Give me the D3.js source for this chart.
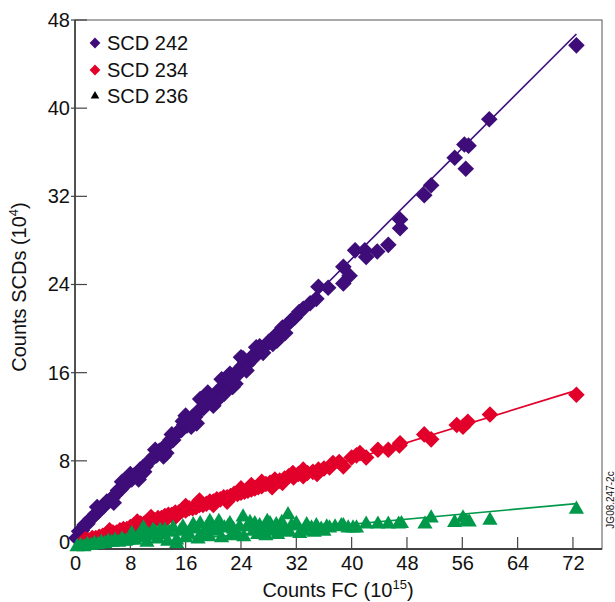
<!DOCTYPE html>
<html>
<head>
<meta charset="utf-8">
<script src="https://cdn.jsdelivr.net/npm/d3@7"></script>
<style>
  body { margin: 0; background: #fff; }
  text { font-family: "Liberation Sans", Arial, Helvetica, sans-serif; fill: #111; }
</style>
</head>
<body>
<svg id="chart" width="615" height="602"></svg>
<script>
// Axis ticks
const xTicks = [0, 8, 16, 24, 32, 40, 48, 56, 64, 72];
const yTicks = [0, 8, 16, 24, 32, 40, 48];

// Series names and colours
const seriesNames = ["SCD 242", "SCD 234", "SCD 236"];
const seriesColors = ["#3e0d79", "#e2002b", "#00994a"];

// SCD 242: [FC counts (1e15), SCD counts (1e4)]
const scd242 = [
  [0.2,1.0],[0.6,1.6],[1.0,1.7],[1.4,2.2],[1.8,2.3],[2.2,2.7],[2.6,2.9],[3.0,3.2],
  [3.4,3.4],[3.8,3.7],[4.2,3.9],[4.6,4.3],[5.0,4.4],[5.4,4.6],[5.8,4.9],[6.2,5.3],
  [6.6,5.4],[7.0,5.7],[7.4,6.0],[7.8,6.2],[8.2,6.3],[8.6,6.7],[9.0,6.8],[9.4,7.2],
  [9.8,7.4],[10.2,7.5],[10.6,7.9],[11.0,8.1],[11.4,8.4],[11.8,8.5],[12.2,8.9],[12.6,9.0],
  [13.0,9.2],[13.4,9.6],[13.8,9.9],[14.2,9.9],[14.6,10.4],[15.0,10.7],[15.4,10.8],[15.8,11.3],
  [16.2,11.2],[16.6,11.7],[17.0,12.0],[17.4,12.0],[17.8,12.5],[18.2,12.7],[18.6,12.8],[19.0,13.2],
  [19.4,13.5],[19.8,13.5],[20.2,13.9],[20.6,14.3],[21.0,14.4],[21.4,14.5],[21.8,15.0],[22.2,15.3],
  [22.6,15.3],[23.0,15.7],[23.4,16.1],[23.8,16.0],[24.2,16.6],[24.6,16.9],[25.0,16.8],[25.5,17.4],
  [26.0,17.6],[26.5,17.9],[27.0,18.2],[27.5,18.4],[28.0,18.8],[28.5,19.0],[29.0,19.4],[29.5,19.5],
  [30.0,20.1],[30.6,20.3],[31.2,20.7],[31.8,21.0],[32.4,21.5],[33.0,21.8],
  [12.8,8.4],[16.0,12.1],[17.6,11.4],[18.1,13.6],[19.2,14.2],[20.0,13.0],[21.2,15.4],
  [22.8,14.7],[24.0,17.4],[26.7,18.4],[27.2,17.8],[25.8,17.3],[24.3,17.3],
  [5.6,4.2],[8.0,6.8],[10.0,7.0],[14.0,10.4],[23.2,15.0],[28.6,18.6],[30.4,19.6],
  [3.2,3.8],[6.8,6.1],[9.2,6.3],[11.6,9.0],[13.2,8.7],[15.6,11.6],[16.8,11.1],[18.8,13.8],
  [20.4,13.4],[21.6,14.1],[22.4,15.9],[24.8,16.2],[26.2,18.3],[29.2,18.9],
  [34.0,22.3],[34.9,22.7],[35.2,23.8],[36.6,23.7],[38.8,24.1],[39.7,24.8],[38.8,25.6],
  [40.5,27.1],[41.9,27.1],[42.1,26.5],[43.7,27.0],[45.3,27.6],[47.0,29.1],[47.0,29.9],
  [50.5,32.1],[51.5,33.0],[54.9,35.5],[56.5,34.5],[56.3,36.7],[56.9,36.6],[59.9,39.0],
  [72.5,45.7]
];

// SCD 234
const scd234 = [
  [1.5,0.9],[2.0,0.8],[2.5,1.0],[3.0,1.0],[3.5,1.1],[4.0,1.2],[4.5,1.3],[5.0,1.3],
  [5.5,1.5],[6.0,1.5],[6.5,1.7],[7.0,1.8],[7.5,1.8],[8.0,2.0],[8.5,2.1],[9.0,2.1],
  [9.5,2.3],[10.0,2.3],[10.5,2.5],[11.0,2.5],[11.5,2.6],[12.0,2.8],[12.5,2.8],[13.0,3.0],
  [13.5,3.1],[14.0,3.1],[14.5,3.3],[15.0,3.3],[15.5,3.5],[16.0,3.5],[16.5,3.7],[17.0,3.7],
  [17.5,3.8],[18.0,4.0],[18.5,4.0],[19.0,4.1],[19.5,4.3],[20.0,4.3],[20.5,4.5],[21.0,4.5],
  [21.5,4.7],[22.0,4.7],[22.5,4.8],[23.0,5.0],[23.5,5.0],[24.0,5.1],[24.5,5.2],[25.0,5.3],
  [25.5,5.4],[26.0,5.5],[26.5,5.6],[27.0,5.7],[27.6,5.9],[28.2,6.0],[28.9,6.3],[29.6,6.2],
  [30.3,6.4],[30.9,6.6],[31.6,6.5],[32.3,6.8],[33.0,6.6],[33.6,6.9],[34.4,7.0],[35.2,7.2],
  [36.0,7.3],[36.8,7.4],[37.3,7.8],[38.2,7.9],[38.8,7.5],[40.0,8.3],[40.7,8.5],[41.2,8.7],
  [5.0,1.7],[9.0,2.5],[13.0,2.6],[16.0,3.9],[20.0,4.0],[24.0,5.5],[27.0,6.1],[30.0,6.0],[33.0,7.2],
  [7.0,1.4],[11.0,2.9],[14.5,2.9],[18.0,4.4],[22.0,4.3],[25.5,5.8],[28.5,5.6],[31.5,6.9],[35.0,6.8],
  [42.1,8.3],[43.8,9.0],[45.3,9.0],[46.9,9.4],[47.0,9.6],[50.5,10.4],[51.5,9.95],
  [55.2,11.25],[56.1,11.1],[56.8,11.55],[60.0,12.2],[72.5,14.0]
];

// SCD 236
const scd236 = [
  [0.3,0.2],[0.8,0.3],[1.3,0.2],[1.8,0.4],[2.3,0.3],[2.8,0.5],[3.3,0.4],[3.8,0.6],
  [4.3,0.5],[4.8,0.7],[5.3,0.6],[5.8,0.8],[6.3,0.6],[6.8,0.9],[7.3,0.7],[7.8,0.9],
  [8.2,1.4],[8.6,0.8],[9.1,1.1],[9.6,1.6],[10.1,1.0],[10.6,1.3],[11.1,1.2],[11.6,1.5],
  [12.3,1.7],[12.8,1.3],[13.0,1.7],[13.6,1.5],[14.2,1.9],[14.7,0.8],[14.7,0.5],[15.2,1.6],
  [15.6,2.0],[16.4,1.4],[17.1,2.2],[17.5,1.8],[18.1,2.3],[18.5,1.3],[19.0,1.9],[19.5,2.5],
  [19.8,2.0],[20.3,1.6],[21.0,2.2],[21.6,1.9],[22.4,2.3],[22.9,1.8],[23.4,1.4],[23.8,2.0],
  [24.3,2.9],[24.9,2.0],[25.8,1.6],[26.0,2.3],[26.7,2.1],[27.3,1.8],[28.2,2.3],[28.2,1.6],
  [29.1,2.2],[29.6,1.9],[30.3,1.6],[30.8,3.1],[31.3,2.1],[32.0,2.3],[32.5,1.4],[33.5,2.2],
  [34.2,1.9],[34.9,2.1],[35.6,1.8],[36.4,2.0],[36.8,1.9],[37.6,2.0],[38.5,2.1],[38.8,2.1],
  [39.5,1.9],[40.2,1.9],[40.7,1.9],[42.1,2.25],[43.8,2.25],[45.3,2.25],[46.8,2.25],[47.2,2.3],
  [50.6,2.25],[51.5,2.8],[54.9,2.4],[56.1,2.8],[56.6,2.5],[57.0,2.45],[60.0,2.6],[72.5,3.6],
  [9.9,1.9],[11.3,1.7],[16.9,1.9],[20.8,2.5],[22.1,2.0],[25.3,2.4],[27.8,2.5],[29.9,2.4],
  [10.4,0.6],[12.0,0.9],[13.4,0.7],[16.0,1.0],[17.8,0.9],[19.4,1.1],[21.2,1.0],[22.6,1.2],
  [24.4,1.1],[26.4,1.3],[27.6,1.2],[29.3,1.3],[31.0,1.5],[33.0,1.6],[34.6,1.5],[36.0,1.6]
];

// Linear fits: [intercept, slope], drawn over fitSpan
const fit242 = [1.2, 0.628];
const fit234 = [0.4, 0.193];
const fit236 = [-0.05, 0.0575];
const fitSpan = [0, 72.5];

const svg = d3.select("#chart");
const x = d3.scaleLinear().domain([0, 76.2]).range([75, 602]);
const y = d3.scaleLinear().domain([0, 48]).range([549, 20]);

// Frame
svg.append("rect")
  .attr("x", x(0)).attr("y", y(48))
  .attr("width", x(76.2) - x(0)).attr("height", y(0) - y(48))
  .attr("fill", "none").attr("stroke", "#555").attr("stroke-width", 1);
svg.append("line").attr("x1", x(0)).attr("x2", x(0)).attr("y1", y(48)).attr("y2", y(0))
  .attr("stroke", "#222").attr("stroke-width", 1.3);
svg.append("line").attr("x1", x(0)).attr("x2", x(76.2)).attr("y1", y(0)).attr("y2", y(0))
  .attr("stroke", "#222").attr("stroke-width", 1.3);

// Axes
const xAxis = d3.axisBottom(x).tickValues(xTicks).tickSize(0).tickPadding(8);
const yAxis = d3.axisLeft(y).tickValues(yTicks).tickSize(0).tickPadding(6);
const gx = svg.append("g").attr("transform", `translate(0,${y(0)})`).call(xAxis);
const gy = svg.append("g").attr("transform", `translate(${x(0)},0)`).call(yAxis);
[gx, gy].forEach(g => {
  g.select(".domain").remove();
  g.selectAll("text").attr("font-size", 20).attr("fill", "#111")
    .style("font-family", '"Liberation Sans", Arial, sans-serif');
});
gy.selectAll(".tick text").attr("x", -5).attr("dy", d => d === 0 ? "-0.05em" : "0.32em");
gx.selectAll(".tick text").attr("dy", "0.66em");

// Tick marks (inward)
svg.append("g").selectAll("line").data(xTicks.filter(d => d > 0)).join("line")
  .attr("x1", d => x(d)).attr("x2", d => x(d))
  .attr("y1", y(0)).attr("y2", y(0) - 12)
  .attr("stroke", "#444").attr("stroke-width", 1.2);
svg.append("g").selectAll("line").data(yTicks.filter(d => d > 0)).join("line")
  .attr("x1", x(0) - 4).attr("x2", x(0) + 12)
  .attr("y1", d => y(d)).attr("y2", d => y(d))
  .attr("stroke", "#444").attr("stroke-width", 1.2);

// Fit lines
const fits = [fit242, fit234, fit236];
fits.forEach((f, i) => {
  svg.append("line")
    .attr("x1", x(fitSpan[0])).attr("y1", y(f[0] + f[1] * fitSpan[0]))
    .attr("x2", x(fitSpan[1])).attr("y2", y(f[0] + f[1] * fitSpan[1]))
    .attr("stroke", seriesColors[i]).attr("stroke-width", 1.6);
});

// Markers
const diamond = d3.symbol().type(d3.symbolSquare).size(138)();
const triangle = d3.symbol().type(d3.symbolTriangle).size(100)();

function drawPoints(data, path, color, rotate) {
  svg.append("g").selectAll("path").data(data).join("path")
    .attr("d", path)
    .attr("transform", d => `translate(${x(d[0])},${y(d[1])})${rotate ? " rotate(45)" : ""}`)
    .attr("fill", color);
}
drawPoints(scd242, diamond, seriesColors[0], true);
drawPoints(scd234, diamond, seriesColors[1], true);
drawPoints(scd236, triangle, seriesColors[2], false);

// Legend
const legendY = [43, 70, 96];
const legendSymbols = [
  d3.symbol().type(d3.symbolSquare).size(58)(),
  d3.symbol().type(d3.symbolSquare).size(58)(),
  d3.symbol().type(d3.symbolTriangle).size(32)()
];
const legendFill = [seriesColors[0], seriesColors[1], "#000"];
seriesNames.forEach((name, i) => {
  svg.append("path").attr("d", legendSymbols[i])
    .attr("transform", `translate(95,${legendY[i]})${i < 2 ? " rotate(45)" : ""}`)
    .attr("fill", legendFill[i]);
  svg.append("text").attr("x", 107).attr("y", legendY[i] + 7)
    .attr("font-size", 20).text(name);
});

// Axis titles
const xTitle = svg.append("text").attr("x", 338).attr("y", 597)
  .attr("text-anchor", "middle").attr("font-size", 20);
xTitle.append("tspan").text("Counts FC (10");
xTitle.append("tspan").attr("font-size", 13).attr("dy", -8).text("15");
xTitle.append("tspan").attr("dy", 8).text(")");

const yTitle = svg.append("text")
  .attr("transform", "translate(26,287) rotate(-90)")
  .attr("text-anchor", "middle").attr("font-size", 20);
yTitle.append("tspan").text("Counts SCDs (10");
yTitle.append("tspan").attr("font-size", 13).attr("dy", -8).text("4");
yTitle.append("tspan").attr("dy", 8).text(")");

// Figure id
svg.append("text")
  .attr("transform", "translate(614,500) rotate(-90)")
  .attr("text-anchor", "middle").attr("font-size", 10).text("JG08.247-2c");
</script>
</body>
</html>
